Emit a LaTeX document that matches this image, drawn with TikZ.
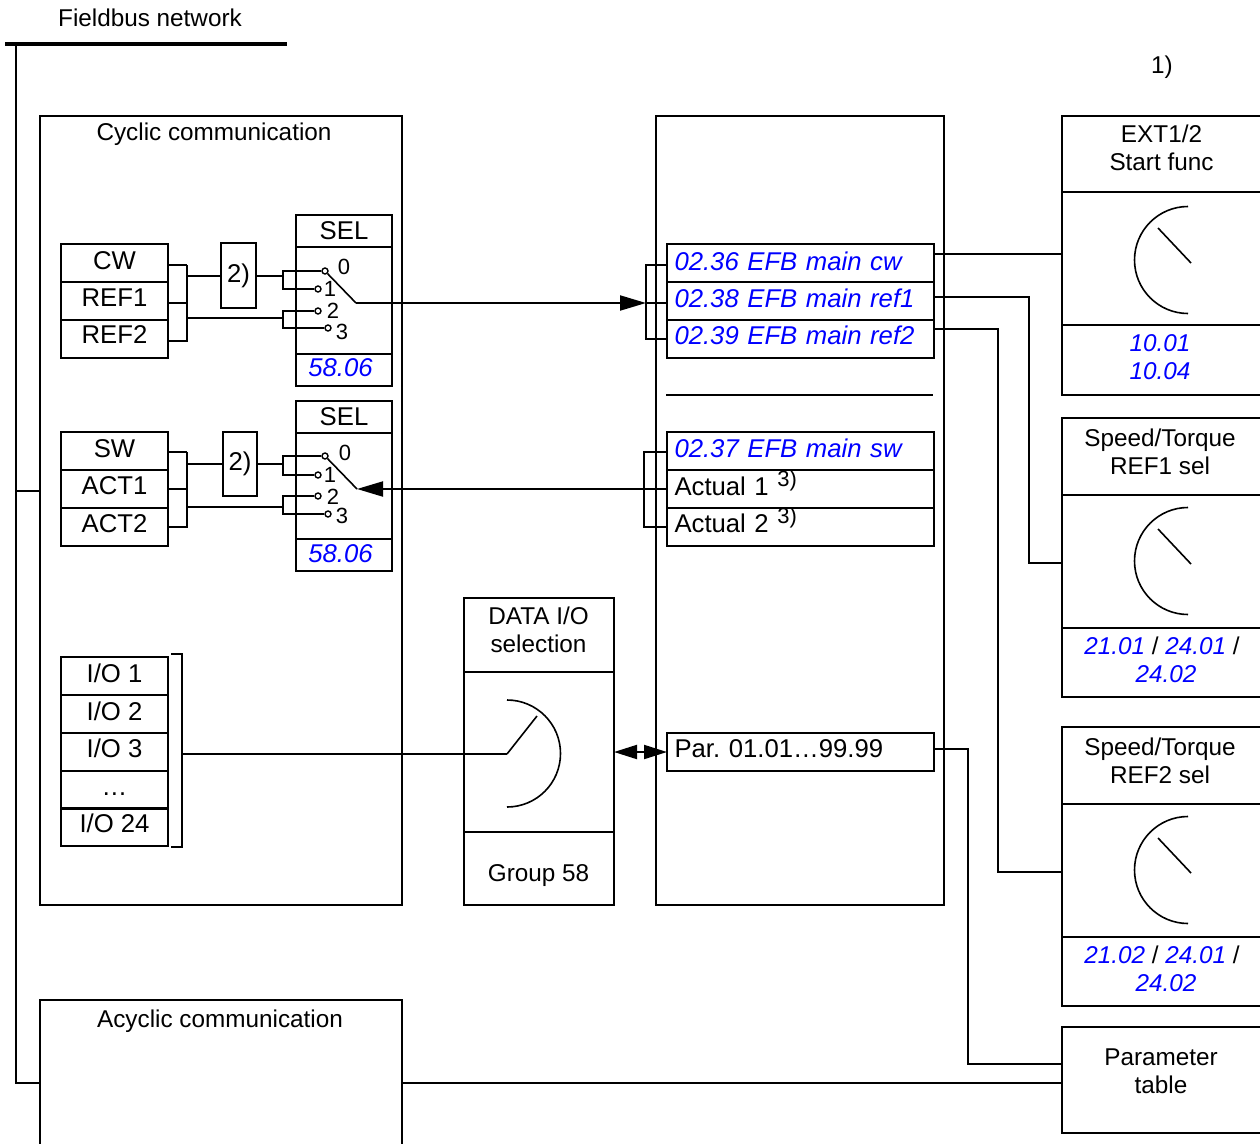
\documentclass[tikz,border=0pt]{standalone}
\usepackage{fontspec}
\setmainfont{Liberation Sans}
\usetikzlibrary{arrows.meta}
\definecolor{parblue}{RGB}{0,0,255}
\newcommand{\bigtxt}{\frenchspacing\fontsize{25.7}{28}\selectfont}
\newcommand{\midtxt}{\frenchspacing\fontsize{24.3}{28}\selectfont}
\newcommand{\nrtxt}{\fontsize{22}{24}\selectfont}
\tikzset{
  x=1pt, y=-1pt,
  frame/.style={draw, line width=2pt, inner sep=0pt, outer sep=0pt},
  lab/.style={inner sep=0pt, align=center, font=\midtxt},
  par/.style={lab, text=parblue, font=\midtxt\itshape},
  cell/.style={frame, minimum width=107pt, minimum height=38pt, font=\bigtxt, text height=16pt, text depth=4pt},
  maincell/.style={frame, minimum width=267pt, minimum height=38pt, text width=252pt, inner xsep=7.5pt, align=left, font=\bigtxt, text height=16pt, text depth=4pt},
  parcell/.style={maincell, text=parblue, font=\bigtxt\itshape, text depth=2pt},
  selhead/.style={frame, minimum width=96pt, minimum height=32pt, font=\bigtxt},
  selmid/.style={frame, minimum width=96pt, minimum height=107pt},
  selfoot/.style={frame, minimum width=96pt, minimum height=32pt, text=parblue, font=\bigtxt\itshape, text height=16pt, text depth=4pt},
  notebox/.style={frame, minimum width=35pt, minimum height=65pt, font=\bigtxt},
  rbox/.style={frame, minimum width=200pt},
  dbox/.style={frame, minimum width=150pt},
  contact/.style={draw, circle, fill=white, line width=1.4pt, minimum size=6pt, inner sep=0pt},
  nr/.style={inner sep=0pt, font=\nrtxt},
  wire/.style={line width=2pt},
  thinwire/.style={line width=1.6pt},
  bigarrow/.style={wire, -{Triangle[length=26pt, width=15pt]}},
  twoarrow/.style={wire, {Triangle[length=23pt, width=14pt]}-{Triangle[length=23pt, width=14pt]}},
}
\begin{document}
\begin{tikzpicture}
  \useasboundingbox (0,0) rectangle (1260,1143);
  \clip (0,0) rectangle (1260,1143);
  \node[lab] (fbname) at (150,18) {Fieldbus network};
  \node[lab] (noteone) at (1162,67) {1)};
  \coordinate (fbleft) at (5,44);
  \coordinate (fbright) at (287,44);
  \coordinate (fbdrop) at (16,44);
  \draw[line width=4pt] (fbleft) -- (fbright);

  \node[frame, minimum width=362pt, minimum height=789pt] (cyclic) at (221,510.5) {};
  \node[lab] (cyclicname) at (214,134) {Cyclic communication};
  \node[frame, minimum width=288pt, minimum height=789pt] (efb) at (800,510.5) {};
  \node[frame, minimum width=362pt, minimum height=200pt] (acyclic) at (221,1100) {};
  \node[lab] (acyclicname) at (220,1021) {Acyclic communication};
  \coordinate (cyclicin) at (40,491);
  \coordinate (acycin) at (40,1083);
  \coordinate (acycout) at (402,1083);

  % upper selector
  \node[cell] (cw) at (114.5,263) {CW};
  \node[cell, text depth=6pt] (refa) at (114.5,301) {REF1};
  \node[cell, text depth=7pt] (refb) at (114.5,338.5) {REF2};
  \node[notebox] (notea) at (238.5,275.5) {2)};
  \node[selhead] (sela) at (344,231) {SEL};
  \node[selmid] (selamid) at (344,300.5) {};
  \node[selfoot] (selafoot) at (344,370) {58.06\kern7pt};
  \node[contact] (aa) at (325,271) {};
  \node[contact] (ab) at (318,289) {};
  \node[contact] (ac) at (318,311) {};
  \node[contact] (ad) at (328,328) {};
  \node[nr] (aan) at (344,267) {0};
  \node[nr] (abn) at (330,289) {1};
  \node[nr] (acn) at (333,311) {2};
  \node[nr] (adn) at (342,332) {3};
  \coordinate (abus) at (187,265);
  \coordinate (ajoin) at (283,271);
  \coordinate (awipe) at (356,303);
  \coordinate (ajointwo) at (283,311);
  \draw[wire] ([yshift=-2pt]cw.east) -- (abus);
  \draw[wire] ([yshift=-2pt]refa.east) -- (abus |- awipe);
  \draw[wire] ([yshift=-2pt]refb.east) -| (abus);
  \draw[wire] (abus |- notea.west) -- (notea.west);
  \draw[wire] (notea.east) -- (ajoin |- notea.east);
  \draw[wire] (aa.west) -- (ajoin) |- (ab.west);
  \draw[wire] (abus |- 0,318) -- (ajointwo |- 0,318);
  \draw[wire] (ac.west) -- (ajointwo) |- (ad.west);
  \draw[thinwire] (aa) -- (awipe);

  % lower selector
  \node[cell] (sw) at (114.5,451) {SW};
  \node[cell, text depth=6pt] (acta) at (114.5,489) {ACT1};
  \node[cell, text depth=5pt] (actb) at (114.5,526.5) {ACT2};
  \node[notebox, minimum width=34pt, minimum height=64pt] (noteb) at (240,464) {2)};
  \node[selhead] (selb) at (344,417) {SEL};
  \node[selmid, minimum height=106pt] (selbmid) at (344,486) {};
  \node[selfoot, text depth=2pt] (selbfoot) at (344,555) {58.06\kern7pt};
  \node[contact] (ba) at (325,456) {};
  \node[contact] (bb) at (318,475) {};
  \node[contact] (bc) at (318,496) {};
  \node[contact] (bd) at (328,514) {};
  \node[nr] (ban) at (345,453) {0};
  \node[nr] (bbn) at (330,475) {1};
  \node[nr] (bcn) at (333,497) {2};
  \node[nr] (bdn) at (342,516) {3};
  \coordinate (bbus) at (187,452);
  \coordinate (bjoin) at (283,456);
  \coordinate (bwipe) at (357,489);
  \coordinate (bjointwo) at (283,496);
  \draw[wire] ([yshift=-1pt]sw.east) -- (bbus);
  \draw[wire] (acta.east) -- (bbus |- acta.east);
  \draw[wire] (actb.east) -| (bbus);
  \draw[wire] (bbus |- noteb.west) -- (noteb.west);
  \draw[wire] (noteb.east) -- (bjoin |- noteb.east);
  \draw[wire] (ba.west) -- (bjoin) |- (bb.west);
  \draw[wire] (bbus |- 0,507) -- (bjointwo |- 0,507);
  \draw[wire] (bc.west) -- (bjointwo) |- (bd.west);
  \draw[thinwire] (ba) -- (bwipe);

  % EFB words
  \node[parcell] (maincw) at (800.5,263) {02.36 EFB main cw};
  \node[parcell, text depth=4pt] (mainrefa) at (800.5,301) {02.38 EFB main ref1};
  \node[parcell, text depth=6pt] (mainrefb) at (800.5,339) {02.39 EFB main ref2};
  \coordinate (sepl) at (666,395);
  \coordinate (sepr) at (933,395);
  \draw[wire] (sepl) -- (sepr);
  \node[parcell, text depth=4pt] (mainsw) at (800.5,451) {02.37 EFB main sw};
  \node[maincell] (actualb) at (800.5,489) {Actual 1 \raisebox{9pt}{\nrtxt 3)}};
  \node[maincell] (actualc) at (800.5,526.5) {Actual 2 \raisebox{9pt}{\nrtxt 3)}};
  \node[maincell, text depth=6pt] (allpar) at (800.5,752) {Par. 01.01…99.99};
  \coordinate (abrk) at (646,265);
  \coordinate (bbrk) at (644,452);
  \draw[wire] ([yshift=-2pt]maincw.west) -- (abrk) -- (abrk |- mainrefb.west) -- (mainrefb.west);
  \draw[wire] (abrk |- awipe) -- (mainrefa.west |- awipe);
  \draw[wire] ([yshift=-1pt]mainsw.west) -- (bbrk) |- (actualc.west);
  \draw[bigarrow] (awipe) -- (abrk |- awipe);
  \draw[bigarrow] (actualb.west) -- (bwipe);

  % I/O words
  \node[cell] (ioa) at (114.5,676) {I/O 1};
  \node[cell] (iob) at (114.5,714) {I/O 2};
  \node[cell, text depth=6pt] (ioc) at (114.5,752) {I/O 3};
  \node[cell] (iodots) at (114.5,789.5) {…};
  \node[cell, text depth=6pt] (iod) at (114.5,827) {I/O 24};
  \coordinate (iotop) at (182,654);
  \coordinate (iobot) at (182,847);
  \coordinate (ioout) at (182,754);
  \draw[wire] (171,654) -- (iotop) -- (iobot) -- (171,847);

  % DATA I/O selection
  \node[dbox, minimum height=74pt] (datahead) at (539,635) {};
  \node[lab] (dataname) at (538.5,630) {DATA I/O\\selection};
  \node[dbox, minimum height=160pt] (datamid) at (539,752) {};
  \node[dbox, minimum height=73pt] (datafoot) at (539,868.5) {};
  \node[lab] (datagroup) at (538.5,876) {Group 58};
  \coordinate (datadial) at (507,754);
  \coordinate (datatip) at (537,716);
  \draw[wire] (ioout) -- (datadial);
  \draw[thinwire] (datadial) -- (datatip);
  \draw[thinwire] (507,700) arc[start angle=90, end angle=-90, radius=53.5pt];
  \draw[twoarrow] (datamid.east) -- (allpar.west);

  % function blocks
  \node[rbox, minimum height=76pt] (exthead) at (1162,154) {};
  \node[lab] (extname) at (1161.5,148) {EXT1/2\\Start func};
  \node[rbox, minimum height=133pt] (extmid) at (1162,258.5) {};
  \node[rbox, minimum height=70pt] (extfoot) at (1162,360) {};
  \node[par] (extpar) at (1160,357) {10.01\\10.04};

  \node[rbox, minimum height=77pt] (sthead) at (1162,456.5) {};
  \node[lab] (stname) at (1160,452) {Speed/Torque\\REF1 sel};
  \node[rbox, minimum height=133pt] (stmid) at (1162,561.5) {};
  \node[rbox, minimum height=69pt] (stfoot) at (1162,662.5) {};
  \node[par] (stpar) at (1162,660) {21.01 {\upshape\color{black}/} 24.01 {\upshape\color{black}/}\\\hspace{8pt}24.02};

  \node[rbox, minimum height=77pt] (sphead) at (1162,765.5) {};
  \node[lab] (spname) at (1160,761) {Speed/Torque\\REF2 sel};
  \node[rbox, minimum height=133pt] (spmid) at (1162,870.5) {};
  \node[rbox, minimum height=69pt] (spfoot) at (1162,971.5) {};
  \node[par] (sppar) at (1162,969) {21.02 {\upshape\color{black}/} 24.01 {\upshape\color{black}/}\\\hspace{8pt}24.02};

  \foreach \dialy in {260,561,870} {
    \draw[thinwire] (1188,\dialy-53.5) arc[start angle=90, end angle=270, radius=53.5pt];
    \draw[thinwire] (1158,\dialy-32) -- (1191,\dialy+3);
  }

  \node[rbox, minimum height=106pt] (partable) at (1162,1080) {};
  \node[lab] (parname) at (1161,1071) {Parameter\\table};

  % connections to the blocks
  \coordinate (refaturn) at (1029,297);
  \coordinate (refbturn) at (998,329);
  \coordinate (parturn) at (968,749);
  \draw[wire] (maincw.east |- 0,254) -- (exthead.west |- 0,254);
  \draw[wire] (mainrefa.east |- refaturn) -- (refaturn) |- (stmid.west |- 0,563);
  \draw[wire] (mainrefb.east |- refbturn) -- (refbturn) |- (spmid.west |- 0,872);
  \draw[wire] (allpar.east |- parturn) -- (parturn) |- (partable.west |- 0,1064);
  \draw[wire] (acycout) -- (partable.west |- acycout);
  \draw[wire] (fbdrop) |- (acycin);
  \draw[wire] (fbdrop |- cyclicin) -- (cyclicin);
\end{tikzpicture}
\end{document}
